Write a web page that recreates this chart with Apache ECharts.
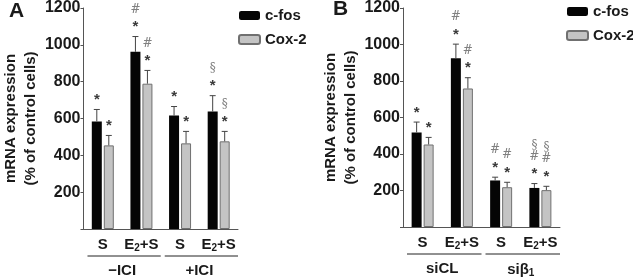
<!DOCTYPE html>
<html>
<head>
<meta charset="utf-8">
<script src="https://cdn.jsdelivr.net/npm/echarts@6/dist/echarts.min.js"></script>
<style>
  html, body { margin: 0; padding: 0; background: #fff; }
  #chart { width: 633px; height: 278px; }
</style>
</head>
<body>
<div id="chart"></div>
<script>
// panel A
var catsA = ["S", "E2+S", "S", "E2+S"];
var groupsA = ["\u2212ICI", "+ICI"];
var cfosA = [584, 962, 616, 638];
var cfosErrA = [65, 83, 49, 86];
var coxA = [454, 789, 465, 476];
var coxErrA = [54, 72, 65, 54];
var cfosMarkA = ["*", "*#", "*", "*\u00a7"];
var coxMarkA = ["*", "*#", "*", "*\u00a7"];

// panel B
var catsB = ["S", "E2+S", "S", "E2+S"];
var groupsB = ["siCL", "si\u03b21"];
var cfosB = [518, 924, 255, 214];
var cfosErrB = [57, 78, 18, 24];
var coxB = [452, 759, 218, 202];
var coxErrB = [39, 59, 27, 21];
var cfosMarkB = ["*", "*#", "*#", "*#\u00a7"];
var coxMarkB = ["*", "*#", "*#", "*#\u00a7"];

var font = "Liberation Sans";
var ink = "#1a1a1a";

var chart = echarts.init(document.getElementById("chart"));

function errData(vals, errs) {
  return vals.map(function (v, i) { return [i, v, errs[i]]; });
}

// error whisker + significance marks
function errSeries(name, xi, vals, errs, marks, off) {
  return {
    type: "custom",
    name: name + "-err",
    xAxisIndex: xi,
    yAxisIndex: xi / 2,
    silent: true,
    clip: false,
    z: 5,
    data: errData(vals, errs),
    renderItem: function (params, api) {
      var i = api.value(0);
      var v = api.value(1);
      var e = api.value(2);
      var base = api.coord([i, v]);
      var top = api.coord([i, v + e]);
      var x = base[0] + off;
      var kids = [
        { type: "line", shape: { x1: x, y1: base[1], x2: x, y2: top[1] }, style: { stroke: "#444", lineWidth: 1 } },
        { type: "line", shape: { x1: x - 3, y1: top[1], x2: x + 3, y2: top[1] }, style: { stroke: "#444", lineWidth: 1 } }
      ];
      var m = marks[params.dataIndex];
      for (var k = 0; k < m.length; k++) {
        var ch = m.charAt(k);
        var star = ch === "*";
        kids.push({
          type: "text",
          style: {
            text: ch,
            x: x,
            y: top[1] - (star ? 2 : 10) - k * 11,
            align: "center",
            verticalAlign: "bottom",
            font: star ? "bold 15px " + font : "12px DejaVu Serif",
            fill: star ? "#3a3a3a" : "#808080"
          }
        });
      }
      return { type: "group", children: kids };
    }
  };
}

// underline below each group of categories
function groupLines(xi) {
  return {
    type: "custom",
    xAxisIndex: xi,
    yAxisIndex: (xi - 1) / 2,
    silent: true,
    clip: false,
    data: [[0, 0], [1, 0]],
    renderItem: function (params, api) {
      var c = api.coord([api.value(0), 0]);
      var w = api.size([1, 0])[0];
      return {
        type: "line",
        shape: { x1: c[0] - w / 2 + 4, y1: c[1] + 27, x2: c[0] + w / 2, y2: c[1] + 27 },
        style: { stroke: "#222", lineWidth: 1 }
      };
    }
  };
}

function yAxis(gi) {
  return {
    type: "value",
    gridIndex: gi,
    min: 0,
    max: 1200,
    interval: 200,
    axisLine: { show: true, lineStyle: { color: "#555", width: 1 } },
    axisTick: { show: true, length: 3, lineStyle: { color: "#555" } },
    splitLine: { show: false },
    axisLabel: {
      margin: 3,
      color: ink,
      fontFamily: font,
      fontWeight: "bold",
      fontSize: 16,
      formatter: function (v) { return v === 0 ? "" : String(v); }
    },
    name: "mRNA expression\n(% of control cells)",
    nameLocation: "middle",
    nameRotate: 90,
    nameGap: 28,
    nameTextStyle: { color: ink, fontFamily: font, fontWeight: "bold", fontSize: 15, lineHeight: 20 }
  };
}

var catLabel = {
  interval: 0,
  margin: 8,
  color: ink,
  fontFamily: font,
  fontWeight: "bold",
  fontSize: 15,
  formatter: function (v) { return v === "E2+S" ? "E{sub|2}+S" : v; },
  rich: { sub: { fontSize: 10, fontWeight: "bold", fontFamily: font, color: ink, verticalAlign: "bottom", padding: [6, 0, 0, 0] } }
};

function catAxis(gi, cats) {
  return {
    type: "category",
    gridIndex: gi,
    data: cats,
    axisLine: { show: true, lineStyle: { color: "#555", width: 1 } },
    axisTick: { show: false },
    axisLabel: catLabel
  };
}

function groupAxis(gi, groups) {
  return {
    type: "category",
    gridIndex: gi,
    data: groups,
    position: "bottom",
    offset: 26,
    axisLine: { show: false },
    axisTick: { show: false },
    axisLabel: {
      interval: 0,
      margin: 8,
      color: ink,
      fontFamily: font,
      fontWeight: "bold",
      fontSize: 15,
      formatter: function (v) { return v === "si\u03b21" ? "si\u03b2{sub|1}" : v; },
      rich: { sub: { fontSize: 10, fontWeight: "bold", fontFamily: font, color: ink, verticalAlign: "bottom", padding: [7, 0, 0, 0] } }
    }
  };
}

function barSeries(name, xi, vals, color, border) {
  return {
    type: "bar",
    name: name,
    xAxisIndex: xi,
    yAxisIndex: xi / 2,
    data: vals,
    barWidth: 10,
    barGap: "20%",
    itemStyle: { color: color, borderColor: border, borderWidth: border ? 1 : 0 },
    silent: true
  };
}

var legendCommon = {
  orient: "vertical",
  itemWidth: 21,
  itemHeight: 9,
  itemGap: 9,
  padding: 0,
  selectedMode: false,
  data: ["c-fos", "Cox-2"],
  textStyle: { color: ink, fontFamily: font, fontWeight: "bold", fontSize: 15 }
};

var option = {
  animation: false,
  backgroundColor: "#fff",
  title: [
    { text: "A", left: 9, top: 1, padding: 0, textStyle: { fontFamily: font, fontWeight: "bold", fontSize: 21, color: ink } },
    { text: "B", left: 333, top: -1, padding: 0, textStyle: { fontFamily: font, fontWeight: "bold", fontSize: 21, color: ink } }
  ],
  legend: [
    Object.assign({}, legendCommon, { left: 238, top: 8 }),
    Object.assign({}, legendCommon, { left: 566, top: 4 })
  ],
  grid: [
    { left: 78, top: 8, width: 160, height: 222 },
    { left: 403, top: 3, width: 157, height: 224 }
  ],
  xAxis: [
    catAxis(0, catsA),
    groupAxis(0, groupsA),
    catAxis(1, catsB),
    groupAxis(1, groupsB)
  ],
  yAxis: [yAxis(0), yAxis(1)],
  series: [
    barSeries("c-fos", 0, cfosA, "#050505", null),
    barSeries("Cox-2", 0, coxA, "#c4c4c4", "#707070"),
    barSeries("c-fos", 2, cfosB, "#050505", null),
    barSeries("Cox-2", 2, coxB, "#c4c4c4", "#707070"),
    errSeries("c-fos A", 0, cfosA, cfosErrA, cfosMarkA, -6),
    errSeries("Cox-2 A", 0, coxA, coxErrA, coxMarkA, 6),
    errSeries("c-fos B", 2, cfosB, cfosErrB, cfosMarkB, -6),
    errSeries("Cox-2 B", 2, coxB, coxErrB, coxMarkB, 6),
    groupLines(1),
    groupLines(3)
  ]
};

chart.setOption(option);
</script>
</body>
</html>
